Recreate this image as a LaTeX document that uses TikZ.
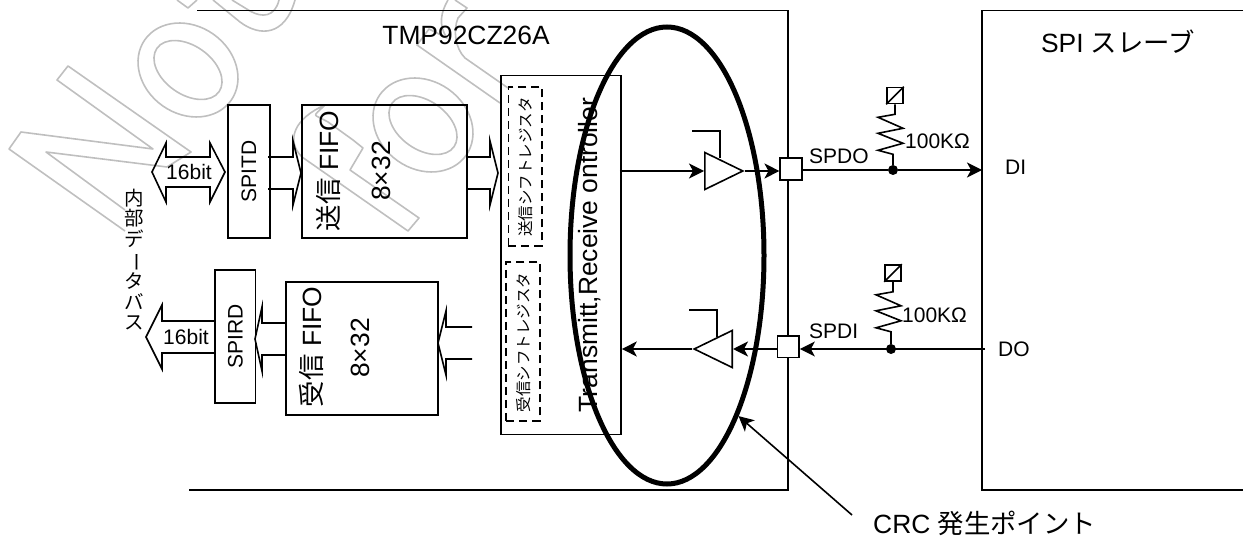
\documentclass[tikz,border=0pt]{standalone}
\usepackage{fontspec}
\setmainfont{Liberation Sans}
\newfontfamily\cjk{Noto Sans CJK JP}
\usetikzlibrary{arrows.meta,shapes.geometric}

\tikzset{
	wire/.style={line width=1.6pt},
	sig/.style={wire, -{Stealth[length=15pt,width=15pt,inset=4pt]}},
	blockbox/.style={draw, wire, inner sep=0pt, font=\fontsize{21}{21}\selectfont},
	padbox/.style={draw, wire, fill=white, inner sep=0pt, minimum size=21.5pt},
	pullbox/.style={draw, wire, inner sep=0pt, minimum size=16pt},
	tapdot/.style={circle, fill, inner sep=0pt, minimum size=10pt},
	bufbox/.style={draw, wire, isosceles triangle, isosceles triangle stretches, inner sep=0pt, minimum height=38pt, minimum width=37pt, anchor=lower side},
	shiftreg/.style={draw, line width=1.6pt, dash pattern=on 8pt off 5pt, inner sep=0pt, minimum width=33.5pt, minimum height=159pt},
	bigtext/.style={font=\fontsize{26.4}{26.4}\selectfont, inner sep=0pt},
	midtext/.style={font=\fontsize{21}{21}\selectfont, inner sep=0pt},
	regtext/.style={font=\fontsize{15.5}{15.5}\selectfont, inner sep=0pt, rotate=90},
	mark outline/.style={line width=1.6pt, draw=black!25, line join=round},
}

% hollow bus arrow: tip x, tip y, direction, shaft length, head depth
\newcommand{\busarrow}[5]{
	\draw [wire, shift={(#1,#2)}, xscale=#3] (#4,-16) -- (#5,-16) -- (#5,-32) -- (0,0) -- (#5,32) -- (#5,16) -- (#4,16);
}

\begin{document}
\begin{tikzpicture}[x=1pt, y=-1pt]
	\useasboundingbox (0,0) rectangle (1245,537);

	% watermark outlines
	\draw [mark outline] (125,231) -- (9,149) -- (21,132) -- (153,149) -- (57,80) -- (68,66) -- (191,152) -- (167,167) -- (46,152) -- (125,210);
	\foreach \cx/\cy in {188/70, 423/125} {
		\draw [mark outline, shift={(\cx,\cy)}, rotate=-35] (0,0) ellipse (52.7 and 43.9);
		\draw [mark outline, shift={(\cx,\cy)}, rotate=-35] (0,0) ellipse (37.9 and 24.3);
	}
	\draw [mark outline] (177,0) -- (188,8) -- (197,0);
	\draw [mark outline] (213,0) -- (240,22) .. controls (260,37) and (285,36) .. (295,0);
	\draw [mark outline] (232,0) -- (250,11) .. controls (262,18) and (275,17) .. (279,0);
	\draw [mark outline] (325,105) .. controls (295,118) and (285,140) .. (302,157) -- (408,231) -- (419,218) -- (350,170) -- (363,148) -- (353,140) -- (328,122) .. controls (312,113) and (312,118) .. (325,105);
	\draw [mark outline] (500,103) -- (417,45) -- (429,29) -- (447,38) .. controls (438,25) and (441,12) .. (448,0);
	\draw [mark outline] (455,0) -- (467,8) -- (458,18) .. controls (453,30) and (455,48) .. (465,58) -- (508,88);

	% chip and slave outlines
	\draw [wire] (197,10.5) -- (788,10.5) -- (788,490) -- (189,490);
	\draw [wire] (1243,10.5) -- (982,10.5) -- (982,490) -- (1243,490);
	\node [bigtext, anchor=base] (chipname) at (466,45) {TMP92CZ26A};
	\node [bigtext, anchor=base] (slavename) at (1118,52.5) {SPI {\cjk スレーブ}};

	% transmit side blocks
	\node [blockbox, minimum width=42pt, minimum height=133pt] (spitd) at (249,171.5) {\rotatebox{90}{SPITD}};
	\node [blockbox, minimum width=165pt, minimum height=133pt] (txfifo) at (384.5,171.5) {};
	\node [bigtext, rotate=90] (txfifoname) at (328,171) {{\cjk 送信} FIFO};
	\node [bigtext, rotate=90] (txfifosize) at (381,171) {8×32};

	% receive side blocks
	\node [blockbox, minimum width=40.5pt, minimum height=133pt] (spird) at (235.3,336.5) {\rotatebox{90}{SPIRD}};
	\node [blockbox, minimum width=152pt, minimum height=133pt] (rxfifo) at (362,348.5) {};
	\node [bigtext, rotate=90] (rxfifoname) at (311,347) {{\cjk 受信} FIFO};
	\node [bigtext, rotate=90] (rxfifosize) at (360,348) {8×32};

	% controller
	\node [blockbox, minimum width=120pt, minimum height=359pt] (ctrl) at (561,255) {};
	\node [bigtext, rotate=90] (ctrlname) at (590,255) {Transmitt,Receive ontroller};
	\node [shiftreg] (txreg) at (525.2,166.5) {};
	\node [shiftreg] (rxreg) at (523,341.3) {};
	\node [regtext] (txregname) at (526,167) {\cjk 送信シフトレジスタ};
	\node [regtext] (rxregname) at (524,342.5) {\cjk 受信シフトレジスタ};

	% hollow bus arrows
	\draw [wire] (152,172) -- (166,143) -- (166,157) -- (210,157) -- (210,143) -- (225,172) -- (210,202) -- (210,187) -- (166,187) -- (166,202) -- cycle;
	\node [midtext] (txbus) at (189,172) {16bit};
	\busarrow{301}{173}{-1}{33}{8}
	\busarrow{498}{173}{-1}{31}{8}
	\busarrow{146}{337}{1}{69}{16}
	\node [midtext] (rxbus) at (186,337) {16bit};
	\busarrow{255}{339}{1}{31}{7}
	\busarrow{438}{343}{1}{34}{8}
	\node [font=\fontsize{19.5}{20.4}\selectfont\cjk, inner sep=0pt, align=center] (busname) at (134,259.5) {内\\部\\デ\\\rotatebox[origin=c]{-90}{ー}\\タ\\バ\\ス};

	% pads and drivers
	\node [bufbox] (txbuf) at (704,171) {};
	\node [bufbox, shape border rotate=180] (rxbuf) at (733,349) {};
	\node [padbox] (spdo) at (791,169) {};
	\node [padbox] (spdi) at (788.3,346.8) {};
	\node [midtext, anchor=west] (spdoname) at (809,156) {SPDO};
	\node [midtext, anchor=west] (spdiname) at (809,331.5) {SPDI};
	\coordinate (txen) at (692,131);
	\coordinate (rxen) at (689,310);
	\draw [wire] (txen) -- (720,131) -- (720,158);
	\draw [wire] (rxen) -- (717,310) -- (717,337);
	\draw [sig] (ctrl.east |- txbuf) ++(-2,0) -- (txbuf.lower side);
	\draw [sig] (txbuf.apex) -- (txbuf.apex -| spdo.west);
	\draw [sig] (rxbuf.apex) -- (rxbuf.apex -| ctrl.east);
	\draw [sig] (spdi.west |- rxbuf) -- (rxbuf.lower side);

	% pull-ups and slave pins
	\node [tapdot] (taptx) at (893,170) {};
	\node [tapdot] (taprx) at (891,349) {};
	\node [pullbox] (pulltx) at (895,95.5) {};
	\node [pullbox] (pullrx) at (893,273) {};
	\foreach \pull/\tap in {pulltx/taptx, pullrx/taprx} {
		\draw [wire] (\pull.south west) -- (\pull.north east);
		\draw [wire] (\pull.south) -- ++(0,10) -- ++(-17,3) -- ++(25,11) -- ++(-25,5) -- ++(25,10) -- ++(-25,7) -- ++(15,4) -- (\tap);
	}
	\node [midtext, anchor=west] (rtxval) at (905,141) {100KΩ};
	\node [midtext, anchor=west] (rrxval) at (902,315) {100KΩ};
	\coordinate (slavedi) at (982,170);
	\coordinate (slavedo) at (985,349);
	\draw [wire] (spdo.east |- taptx) -- (taptx);
	\draw [sig] (taptx) -- (slavedi);
	\draw [sig] (slavedo) -- (slavedo -| spdi.east);
	\node [midtext, anchor=west] (diname) at (1005,167) {DI};
	\node [midtext, anchor=west] (doname) at (998,349) {DO};

	% CRC point
	\node [ellipse, draw, line width=5pt, inner sep=0pt, minimum width=194pt, minimum height=457pt] (crcring) at (667,255.5) {};
	\coordinate (crcfoot) at (852,515);
	\draw [sig] (crcfoot) -- (crcring.-66.7);
	\node [bigtext, anchor=base west] (crcname) at (873,533.5) {CRC {\cjk 発生ポイント}};
\end{tikzpicture}
\end{document}
